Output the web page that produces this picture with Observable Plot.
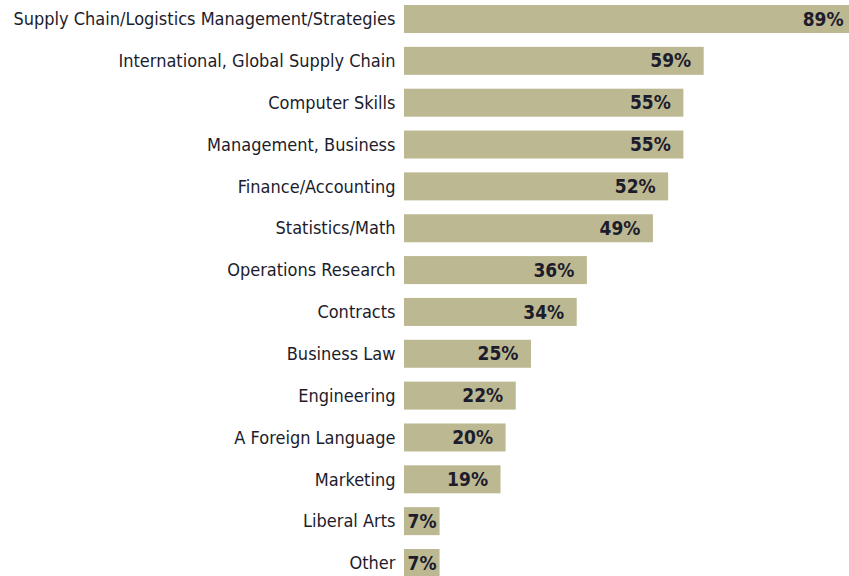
<!DOCTYPE html>
<html><head><meta charset="utf-8">
<script src="https://cdn.jsdelivr.net/npm/d3@7"></script>
<script src="https://cdn.jsdelivr.net/npm/@observablehq/plot@0.6"></script>
<style>body{margin:0;background:#fff;} #chart{width:849px;height:576px;overflow:hidden;}</style>
</head><body><div id="chart"></div>
<script>
const categories = ["Supply Chain/Logistics Management/Strategies","International, Global Supply Chain","Computer Skills","Management, Business","Finance/Accounting","Statistics/Math","Operations Research","Contracts","Business Law","Engineering","A Foreign Language","Marketing","Liberal Arts","Other"];
const values = [89,59,55,55,52,49,36,34,25,22,20,19,7,7];
const data = categories.map((c,i)=>({category:c, value:values[i]}));
const big = data.filter(d => d.value >= 10);
const small = data.filter(d => d.value < 10);
const chart = Plot.plot({
  width: 849, height: 577,
  marginLeft: 404, marginRight: 0, marginTop: 5, marginBottom: 0,
  style: {fontFamily: "'DejaVu Sans Condensed', 'DejaVu Sans', sans-serif", fontSize: "18px", color: "#1c1c2c", background: "#fff", overflow: "hidden"},
  x: {domain: [0, 87.6], axis: null},
  y: {domain: categories, paddingInner: 0.331, paddingOuter: 0, round: false, label: null},
  marks: [
    Plot.barX(data, {x: "value", y: "category", fill: "#bcb892"}),
    Plot.axisY({tickSize: 0, tickPadding: 9, fontSize: 18, label: null, fill: "#1c1c2c"}),
    Plot.text(big, {x: "value", y: "category", text: d => d.value + "%", textAnchor: "end", dx: -13, fontWeight: "bold", fontSize: 19, fill: "#1c1c2c"}),
    Plot.text(small, {x: 0, y: "category", text: d => d.value + "%", textAnchor: "start", dx: 3, fontWeight: "bold", fontSize: 19, fill: "#1c1c2c"})
  ]
});
document.getElementById("chart").append(chart);
</script></body></html>
